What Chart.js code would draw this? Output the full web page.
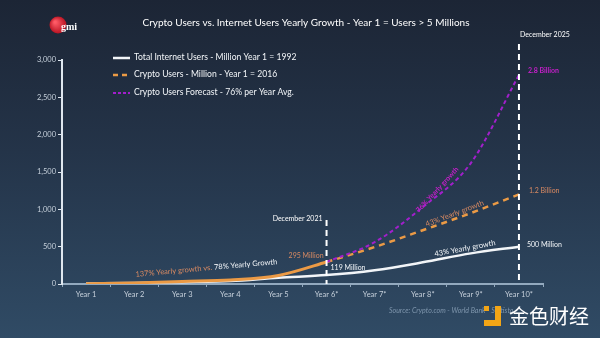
<!DOCTYPE html>
<html>
<head>
<meta charset="utf-8">
<script src="https://cdn.jsdelivr.net/npm/chart.js@4/dist/chart.umd.min.js"></script>
<style>
html,body{margin:0;padding:0;background:#26374c;}
#wrap{width:600px;height:338px;position:relative;}
</style>
</head>
<body>
<div id="wrap"><canvas id="growthChart" width="600" height="338"></canvas></div>
<script>
// yearly user counts, millions
const years = ['Year 1','Year 2','Year 3','Year 4','Year 5','Year 6*','Year 7*','Year 8*','Year 9*','Year 10*'];
const internetUsers = [7, 12, 25, 40, 85, 119, 185, 290, 410, 500];
const cryptoUsers = [5, 15, 35, 55, 115, 295, 495, 720, 950, 1200];
const cryptoForecast = [null, null, null, null, null, 295, 560, 1030, 1620, 2800];
const yTicks = [0, 500, 1000, 1500, 2000, 2500, 3000];

const seriesLabels = [
  'Total Internet Users - Million Year 1 = 1992',
  'Crypto Users - Million - Year 1 = 2016',
  'Crypto Users Forecast - 76% per Year Avg.'
];

const C = {
  white:'#f2f5f8', orange:'#eb9a45', purple:'#a21fcc', magenta:'#c41fc9',
  salmon:'#d98a62', tick:'#c5cfda', axisY:'#dfe7ef', axisX:'#93a9be'
};
const FONT = 'Lato, "Open Sans", sans-serif';

function txt(ctx, s, x, y, color, size, align, weight){
  ctx.save();
  ctx.font = (weight||'normal') + ' ' + size + 'px ' + FONT;
  ctx.fillStyle = color; ctx.textAlign = align||'left'; ctx.textBaseline = 'middle';
  ctx.fillText(s, x, y);
  ctx.restore();
}

// label laid along the segment i -> i+1 of a series
function segLabel(ctx, chart, data, i, t, lift, s, color, size, extraAngle, weight){
  const xs = chart.scales.x, ys = chart.scales.y;
  const x0 = xs.getPixelForValue(i), y0 = ys.getPixelForValue(data[i]);
  const x1 = xs.getPixelForValue(i+1), y1 = ys.getPixelForValue(data[i+1]);
  const a = Math.atan2(y1-y0, x1-x0) + (extraAngle||0);
  ctx.save();
  ctx.translate(x0 + (x1-x0)*t, y0 + (y1-y0)*t);
  ctx.rotate(a);
  ctx.font = (weight||'normal') + ' ' + size + 'px ' + FONT;
  ctx.fillStyle = color; ctx.textAlign = 'center'; ctx.textBaseline = 'middle';
  ctx.fillText(s, 0, -lift);
  ctx.restore();
}

const backdrop = {
  id:'backdrop',
  beforeDraw(chart){
    const {ctx, width, height} = chart;
    const g = ctx.createLinearGradient(0, 0, 0, height);
    g.addColorStop(0, '#1c2535');
    g.addColorStop(0.45, '#243449');
    g.addColorStop(1, '#304b65');
    ctx.save(); ctx.fillStyle = g; ctx.fillRect(0, 0, width, height); ctx.restore();
  }
};

const overlay = {
  id:'overlay',
  afterDraw(chart){
    const ctx = chart.ctx, xs = chart.scales.x, ys = chart.scales.y;
    const base = ys.getPixelForValue(0);

    // header
    const lg = ctx.createRadialGradient(55, 22, 1, 58, 25, 9);
    lg.addColorStop(0, '#ff5a66'); lg.addColorStop(1, '#b5101f');
    ctx.save(); ctx.fillStyle = lg; ctx.beginPath(); ctx.arc(58, 25, 8.5, 0, Math.PI*2); ctx.fill(); ctx.restore();
    ctx.save(); ctx.font = 'bold 10px "Liberation Serif", serif'; ctx.fillStyle = '#ffffff';
    ctx.textBaseline = 'middle'; ctx.fillText('gmi', 61, 27); ctx.restore();
    txt(ctx, 'Crypto Users vs. Internet Users Yearly Growth - Year 1 = Users > 5 Millions', 306, 23, '#ffffff', 10, 'center');

    // legend
    const lx = 113, rows = [57, 74, 92];
    const styles = [[C.white, [], 2.5], [C.orange, [5, 4], 2.5], [C.purple, [3, 2], 2]];
    rows.forEach((ry, k) => {
      ctx.save(); ctx.strokeStyle = styles[k][0]; ctx.lineWidth = styles[k][2]; ctx.setLineDash(styles[k][1]);
      ctx.beginPath(); ctx.moveTo(lx, ry + 1); ctx.lineTo(lx + 17, ry + 1); ctx.stroke(); ctx.restore();
      txt(ctx, seriesLabels[k], lx + 21, ry, '#f3f6f9', 8.6, 'left');
    });

    // period markers
    [[5, 220, 'December 2021', -1], [9, 44, 'December 2025', 0]].forEach(([idx, top, s, side]) => {
      const px = xs.getPixelForValue(idx);
      ctx.save(); ctx.strokeStyle = '#ffffff'; ctx.lineWidth = 2; ctx.setLineDash([6, 4]);
      ctx.beginPath(); ctx.moveTo(px, top); ctx.lineTo(px, base); ctx.stroke(); ctx.restore();
      if (side < 0) txt(ctx, s, px - 4, top - 1, '#ffffff', 7, 'right');
      else txt(ctx, s, px + 1, top - 9, '#ffffff', 7, 'left');
    });

    // value callouts
    const p = (i, v) => [xs.getPixelForValue(i), ys.getPixelForValue(v)];
    let q = p(5, cryptoUsers[5]); txt(ctx, '295 Million', q[0] - 3, q[1] - 6, C.salmon, 7, 'right');
    q = p(5, internetUsers[5]); txt(ctx, '119 Million', q[0] + 4, q[1] - 7, C.white, 7, 'left');
    q = p(9, cryptoForecast[9]); txt(ctx, '2.8 Billion', q[0] + 9, q[1] - 4, C.magenta, 7, 'left', 'bold');
    q = p(9, cryptoUsers[9]); txt(ctx, '1.2 Billion', q[0] + 10, q[1] - 4, C.salmon, 7, 'left');
    q = p(9, internetUsers[9]); txt(ctx, '500 Million', q[0] + 8, q[1] - 2, C.white, 7, 'left');

    // growth notes
    segLabel(ctx, chart, cryptoForecast, 7, 0.35, 3, '76% Yearly growth', C.magenta, 7, -0.08, 'bold');
    segLabel(ctx, chart, cryptoUsers, 7, 0.7, 5, '43% Yearly growth', C.salmon, 7.5, -0.02);
    segLabel(ctx, chart, internetUsers, 7, 0.9, 6, '43% Yearly growth', C.white, 7.5, 0);

    ctx.save();
    ctx.translate((xs.getPixelForValue(2) + xs.getPixelForValue(3)) / 2, base - 16);
    ctx.rotate(-0.09);
    ctx.font = '7.5px ' + FONT; ctx.textBaseline = 'middle';
    const a = '137% Yearly growth vs. ', b = '78% Yearly Growth';
    const wa = ctx.measureText(a).width, wb = ctx.measureText(b).width;
    ctx.fillStyle = C.salmon; ctx.fillText(a, -(wa + wb) / 2, 0);
    ctx.fillStyle = C.white; ctx.fillText(b, -(wa + wb) / 2 + wa, 0);
    ctx.restore();

    // footer
    ctx.save(); ctx.font = 'italic 7px ' + FONT; ctx.fillStyle = '#7f96ad'; ctx.textBaseline = 'middle';
    ctx.fillText('Source: Crypto.com - World Bank - Statista', 389, 311); ctx.restore();
    ctx.save(); ctx.fillStyle = '#f2a516';
    ctx.fillRect(484, 306, 5, 5);
    ctx.fillRect(495, 306, 6, 20); ctx.fillRect(484, 320, 17, 6);
    ctx.restore();
    ctx.save(); ctx.font = '20px "Noto Sans CJK SC", sans-serif'; ctx.fillStyle = '#ffffff';
    ctx.textBaseline = 'middle'; ctx.fillText('金色财经', 509, 316); ctx.restore();
  }
};

const solidUntil = 5;
new Chart(document.getElementById('growthChart'), {
  type:'line',
  data:{
    labels: years,
    datasets:[
      {label: seriesLabels[0], data: internetUsers, borderColor: C.white, borderWidth: 2.5,
       cubicInterpolationMode:'monotone', pointRadius:0, order:2},
      {label: seriesLabels[1], data: cryptoUsers, borderColor: C.orange, borderWidth: 2.5,
       cubicInterpolationMode:'monotone', pointRadius:0, order:1,
       segment:{ borderDash: c => c.p0DataIndex >= solidUntil ? [6, 5] : undefined,
                 borderWidth: c => c.p0DataIndex >= solidUntil ? 2.5 : 3 }},
      {label: seriesLabels[2], data: cryptoForecast, borderColor: C.purple, borderWidth: 2,
       borderDash:[4, 3], cubicInterpolationMode:'monotone', pointRadius:0, order:0, spanGaps:false}
    ]
  },
  options:{
    responsive:false, animation:false,
    layout:{padding:{left:0, right:57, top:60, bottom:0}},
    plugins:{legend:{display:false}, tooltip:{enabled:false}},
    scales:{
      x:{
        offset:true,
        afterFit: s => { s.height = 54; },
        grid:{drawOnChartArea:false, drawTicks:true, tickLength:3, color:C.axisX, offset:true},
        border:{color:C.axisX, width:2},
        ticks:{color:C.tick, font:{family:FONT, size:7.5}, padding:3, maxRotation:0}
      },
      y:{
        min:0, max:3000,
        afterFit: s => { s.width = 62; },
        afterBuildTicks: s => { s.ticks = yTicks.map(v => ({value:v})); },
        grid:{drawOnChartArea:false, drawTicks:true, tickLength:4, color:C.axisY},
        border:{color:C.axisY, width:2},
        ticks:{color:C.tick, font:{family:FONT, size:7.5}, padding:2,
               callback: v => v.toLocaleString('en-US')}
      }
    }
  },
  plugins:[backdrop, overlay]
});
</script>
</body>
</html>
